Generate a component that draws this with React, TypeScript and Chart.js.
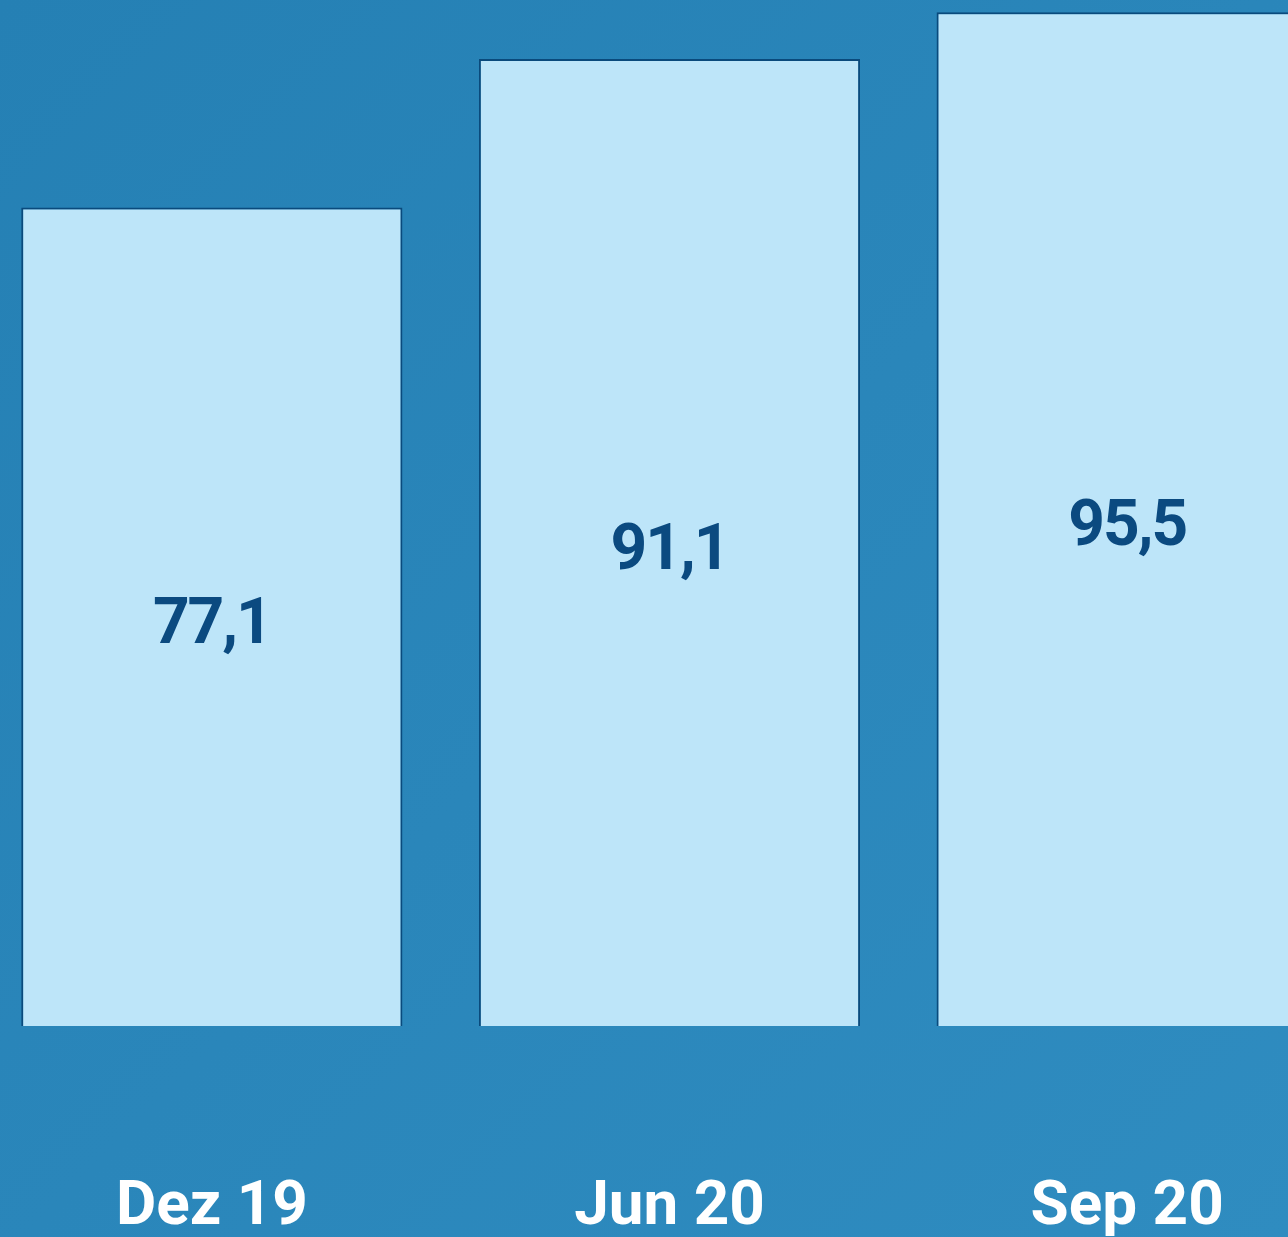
import React, { useEffect, useRef } from "react";
import { Chart, registerables } from "chart.js";

Chart.register(...registerables);

const categories = ["Dez 19", "Jun 20", "Sep 20"];
const values = [77.1, 91.1, 95.5];

const BAR_FILL = "#bde5f9";
const BAR_BORDER = "#0a4a7c";
const VALUE_COLOR = "#0b4a80";

const valueLabels = {
  id: "valueLabels",
  afterDatasetsDraw(chart: any) {
    const ctx = chart.ctx;
    const meta = chart.getDatasetMeta(0);
    ctx.save();
    ctx.fillStyle = VALUE_COLOR;
    ctx.font = "bold 64px Roboto";
    try {
      (ctx as any).letterSpacing = "-2px";
    } catch (e) {}
    ctx.textAlign = "center";
    ctx.textBaseline = "middle";
    meta.data.forEach((bar: any, i: number) => {
      const v = chart.data.datasets[0].data[i] as number;
      const txt = v.toFixed(1).replace(".", ",");
      const y = (bar.y + bar.base) / 2 + 10;
      ctx.fillText(txt, bar.x, y);
    });
    ctx.restore();
  },
};

export default function App() {
  const ref = useRef<HTMLCanvasElement | null>(null);
  useEffect(() => {
    if (!ref.current) return;
    const chart = new Chart(ref.current, {
      type: "bar",
      data: {
        labels: categories,
        datasets: [
          {
            data: values,
            backgroundColor: BAR_FILL,
            borderColor: BAR_BORDER,
            borderWidth: 2,
            barPercentage: 0.833,
            categoryPercentage: 1,
          },
        ],
      },
      options: {
        animation: false,
        responsive: false,
        maintainAspectRatio: false,
        layout: { padding: 0 },
        plugins: { legend: { display: false }, tooltip: { enabled: false } },
        scales: {
          x: {
            grid: { display: false, drawTicks: true, tickLength: 145 },
            border: { display: false },
            ticks: {
              color: "#ffffff",
              font: { family: "Roboto", weight: "bold", size: 62 },
              padding: 0,
            },
            afterFit(scale: any) {
              scale.height = 211;
            },
          },
          y: {
            display: false,
            min: 0,
            max: 96.66,
          },
        },
      },
      plugins: [valueLabels],
    });
    return () => chart.destroy();
  }, []);

  return (
    <div
      style={{
        position: "fixed",
        left: 0,
        top: 0,
        width: 1288,
        height: 1237,
        overflow: "hidden",
        background: "linear-gradient(135deg, #2580b4 0%, #2a86ba 50%, #2f8cc0 100%)",
      }}
    >
      <canvas
        ref={ref}
        width={1373}
        height={1237}
        style={{ position: "absolute", left: -17, top: 0, width: 1373, height: 1237 }}
      />
    </div>
  );
}
